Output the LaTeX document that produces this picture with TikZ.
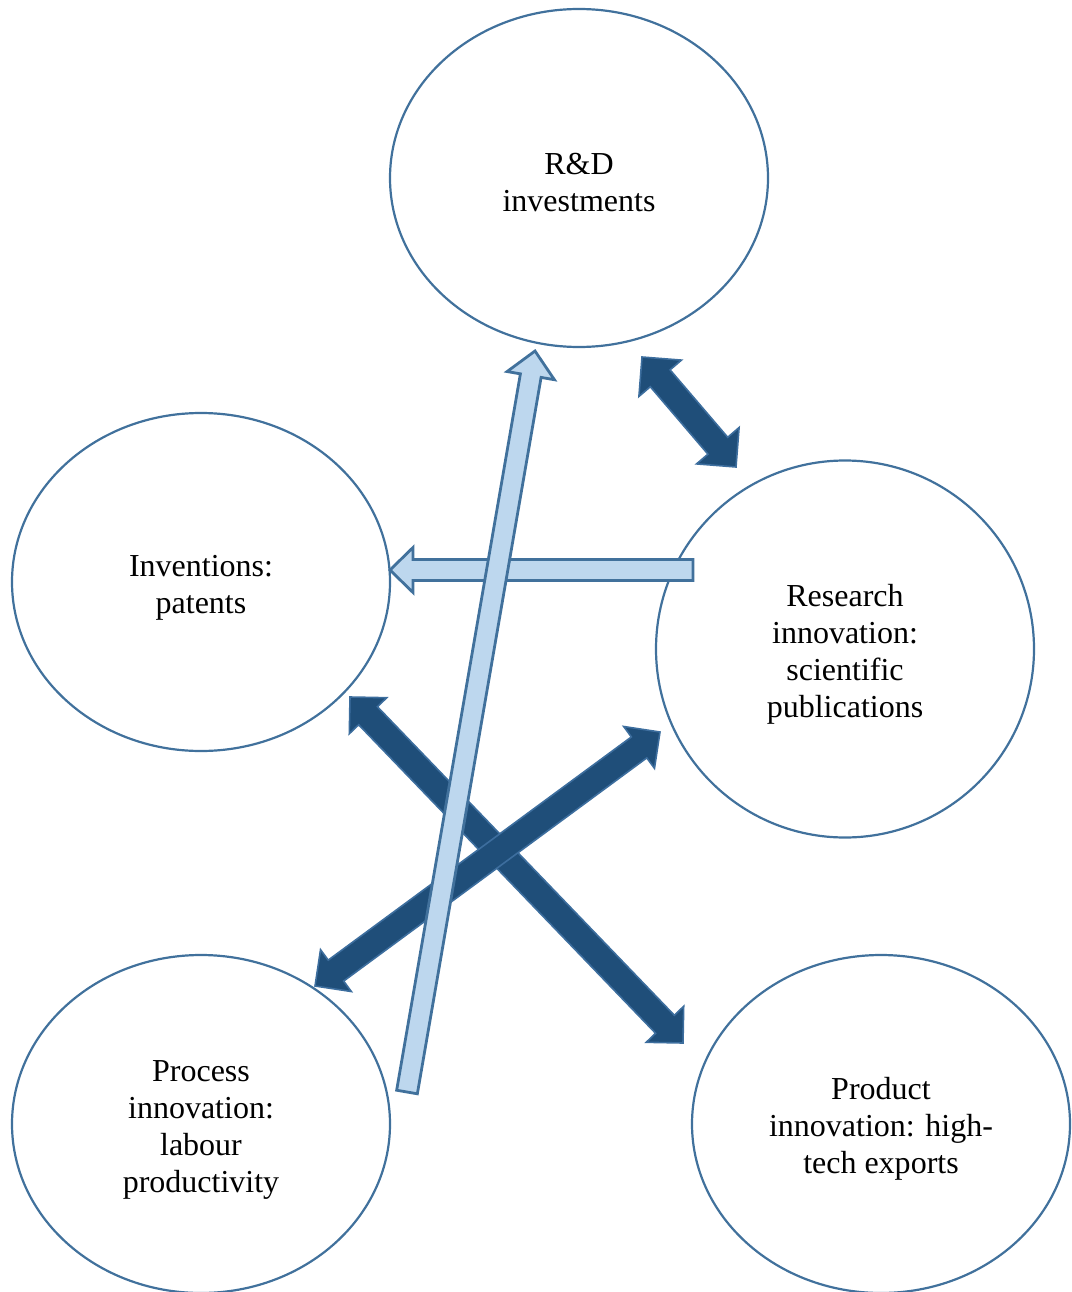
\documentclass[tikz,border=0pt]{standalone}
\usepackage{fontspec}
\setmainfont{Liberation Serif}
\usetikzlibrary{calc,shapes.geometric}

\definecolor{rim}{HTML}{41719C}
\definecolor{pale}{HTML}{BDD7EE}
\definecolor{deep}{HTML}{1F4E79}
\definecolor{deeprim}{HTML}{3D6E9E}

% block arrow with one head: style, tail, tip, half shaft, half head, head length
\newcommand\singlearrow[6]{%
  \coordinate (#2#3h) at ($(#3)!#6!(#2)$);
  \draw[#1] (#3) -- ($(#2#3h)!#5!90:(#2)$) -- ($(#2#3h)!#4!90:(#2)$)
    -- ($(#2)!#4!-90:(#3)$) -- ($(#2)!#4!90:(#3)$)
    -- ($(#2#3h)!#4!-90:(#2)$) -- ($(#2#3h)!#5!-90:(#2)$) -- cycle;}

% block arrow with two heads: style, end a, end b, half shaft, half head, head length
\newcommand\doublearrow[6]{%
  \coordinate (#2#3a) at ($(#2)!#6!(#3)$);
  \coordinate (#2#3b) at ($(#3)!#6!(#2)$);
  \draw[#1] (#2) -- ($(#2#3a)!#5!90:(#3)$) -- ($(#2#3a)!#4!90:(#3)$)
    -- ($(#2#3b)!#4!-90:(#2)$) -- ($(#2#3b)!#5!-90:(#2)$) -- (#3)
    -- ($(#2#3b)!#5!90:(#2)$) -- ($(#2#3b)!#4!90:(#2)$)
    -- ($(#2#3a)!#4!-90:(#3)$) -- ($(#2#3a)!#5!-90:(#3)$) -- cycle;}

\tikzset{
  bubble/.style={ellipse, draw=rim, line width=2.2pt, inner sep=0pt,
    minimum width=378pt, minimum height=338pt},
  words/.style={align=center, inner sep=0pt,
    font=\fontsize{32}{37}\selectfont},
  palearrow/.style={fill=pale, draw=rim, line width=2.8pt, line join=miter},
  deeparrow/.style={fill=deep, draw=deeprim, line width=1.6pt, line join=miter},
}

\begin{document}
\begin{tikzpicture}[x=1pt, y=-1pt]
\useasboundingbox (0,0) rectangle (1071,1292);

% the five bubbles
\node[bubble] (rd) at (579,178) {};
\node[bubble] (inv) at (201,582) {};
\node[bubble, minimum height=377pt] (res) at (845,649) {};
\node[bubble] (proc) at (201,1124) {};
\node[bubble] (prod) at (881,1124) {};

% their texts
\node[words] (rdtext) at ($(rd.center)+(0,5)$) {R\&D\\investments};
\node[words] (invtext) at ($(inv.center)+(0,6)$) {Inventions:\\patents};
\node[words] (restext) at ($(res.center)+(0,5)$)
  {Research\\innovation:\\scientific\\publications};
\node[words] (proctext) at ($(proc.center)+(0,6)$)
  {Process\\innovation:\\labour\\productivity};
\node[words] (prodtext) at ($(prod.center)+(0,5)$)
  {Product\\innovation: high-\\tech exports};

% arrow end points
\coordinate (nw) at (350,697);
\coordinate (se) at (683,1043);
\coordinate (sw) at (315,986);
\coordinate (ne) at (660,732);
\coordinate (top1) at (642,357);
\coordinate (top2) at (736,467);
\coordinate (htail) at (693,570);
\coordinate (htip) at (390,570);
\coordinate (vtail) at (407,1092);
\coordinate (vtip) at (535,351);

% dark two-headed arrows
\doublearrow{deeparrow}{nw}{se}{13pt}{26pt}{26pt}
\doublearrow{deeparrow}{sw}{ne}{13pt}{26pt}{26pt}
\doublearrow{deeparrow}{top1}{top2}{13pt}{28pt}{28pt}

% pale one-headed arrows
\singlearrow{palearrow}{htail}{htip}{10.5pt}{22.5pt}{23pt}
\singlearrow{palearrow}{vtail}{vtip}{10.5pt}{24pt}{25pt}
\end{tikzpicture}
\end{document}
